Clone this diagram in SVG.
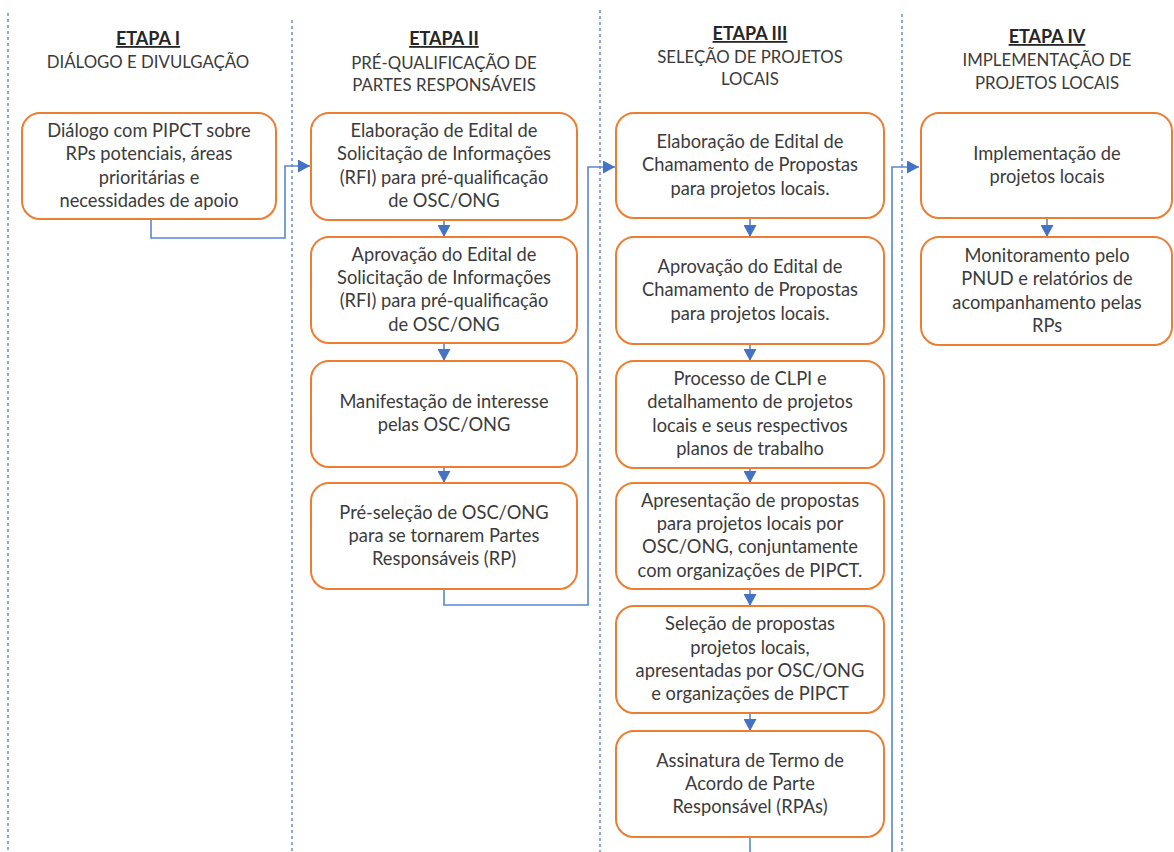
<svg xmlns="http://www.w3.org/2000/svg" width="1174" height="852" viewBox="0 0 1174 852">
<style>
  .sep{stroke:#8EA9DB;stroke-width:2;stroke-dasharray:3 3;fill:none}
  .box{fill:#FFFFFF;stroke:#ED7D31;stroke-width:2}
  .t{font-family:Lato,"Open Sans",sans-serif;font-size:18.3px;fill:#3B3B3B;text-anchor:middle}
  .h{font-family:Lato,"Open Sans",sans-serif;font-size:16.8px;fill:#3B3B3B;text-anchor:middle}
  .hb{font-size:18px;font-weight:bold;fill:#262626;text-decoration:underline}
  .c{stroke:#5B86D3;stroke-width:1.6;fill:none}
</style>
<defs>
  <marker id="ah" viewBox="0 0 12 13" refX="12" refY="6.5" markerWidth="12" markerHeight="13" markerUnits="userSpaceOnUse" orient="auto">
    <path d="M0,0 L12,6.5 L0,13 z" fill="#4472C4"/>
  </marker>
</defs>
<rect width="1174" height="852" fill="#FFFFFF"/>

<g id="separators">
  <line class="sep" x1="8" y1="13" x2="8" y2="852"/>
  <line class="sep" x1="292" y1="20" x2="292" y2="852"/>
  <line class="sep" x1="600" y1="10" x2="600" y2="852"/>
  <line class="sep" x1="902" y1="14" x2="902" y2="852"/>
</g>

<g id="headers">
  <text class="h hb" x="148" y="45">ETAPA I</text>
  <text class="h" x="148" y="68">DIÁLOGO E DIVULGAÇÃO</text>
  <text class="h hb" x="444" y="45">ETAPA II</text>
  <text class="h" x="444" y="69">PRÉ-QUALIFICAÇÃO DE</text>
  <text class="h" x="444" y="91">PARTES RESPONSÁVEIS</text>
  <text class="h hb" x="750" y="40">ETAPA III</text>
  <text class="h" x="750" y="63">SELEÇÃO DE PROJETOS</text>
  <text class="h" x="750" y="85">LOCAIS</text>
  <text class="h hb" x="1047" y="43">ETAPA IV</text>
  <text class="h" x="1047" y="66">IMPLEMENTAÇÃO DE</text>
  <text class="h" x="1047" y="89">PROJETOS LOCAIS</text>
</g>

<g id="connectors">
  <path class="c" d="M151,219 V238 H285 V166 H310" marker-end="url(#ah)"/>
  <path class="c" d="M444,589 V605 H588 V167 H615" marker-end="url(#ah)"/>
  <path class="c" d="M750,837 V880 H892 V167 H919" marker-end="url(#ah)"/>
  <path class="c" d="M444,220 V237" marker-end="url(#ah)"/>
  <path class="c" d="M444,343 V361" marker-end="url(#ah)"/>
  <path class="c" d="M444,467 V483" marker-end="url(#ah)"/>
  <path class="c" d="M750,218 V237" marker-end="url(#ah)"/>
  <path class="c" d="M750,344 V361" marker-end="url(#ah)"/>
  <path class="c" d="M750,468 V483" marker-end="url(#ah)"/>
  <path class="c" d="M750,589 V606" marker-end="url(#ah)"/>
  <path class="c" d="M750,713 V731" marker-end="url(#ah)"/>
  <path class="c" d="M1047,218 V237" marker-end="url(#ah)"/>
</g>

<g id="n1">
  <rect class="box" x="22" y="113" width="254" height="106" rx="18"/>
  <text class="t" x="149" y="137">Diálogo com PIPCT sobre</text>
  <text class="t" x="149" y="160">RPs potenciais, áreas</text>
  <text class="t" x="149" y="184">prioritárias e</text>
  <text class="t" x="149" y="207">necessidades de apoio</text>
</g>

<g id="n2">
  <rect class="box" x="311" y="113" width="266" height="107" rx="18"/>
  <text class="t" x="444" y="137">Elaboração de Edital de</text>
  <text class="t" x="444" y="160">Solicitação de Informações</text>
  <text class="t" x="444" y="184">(RFI) para pré-qualificação</text>
  <text class="t" x="444" y="207">de OSC/ONG</text>
</g>

<g id="n3">
  <rect class="box" x="311" y="237" width="266" height="106" rx="18"/>
  <text class="t" x="444" y="261">Aprovação do Edital de</text>
  <text class="t" x="444" y="284">Solicitação de Informações</text>
  <text class="t" x="444" y="307">(RFI) para pré-qualificação</text>
  <text class="t" x="444" y="331">de OSC/ONG</text>
</g>

<g id="n4">
  <rect class="box" x="311" y="361" width="266" height="106" rx="18"/>
  <text class="t" x="444" y="408">Manifestação de interesse</text>
  <text class="t" x="444" y="431">pelas OSC/ONG</text>
</g>

<g id="n5">
  <rect class="box" x="311" y="483" width="266" height="106" rx="18"/>
  <text class="t" x="444" y="519">Pré-seleção de OSC/ONG</text>
  <text class="t" x="444" y="542">para se tornarem Partes</text>
  <text class="t" x="444" y="565">Responsáveis (RP)</text>
</g>

<g id="n6">
  <rect class="box" x="616" y="113" width="268" height="105" rx="18"/>
  <text class="t" x="750" y="148">Elaboração de Edital de</text>
  <text class="t" x="750" y="171">Chamamento de Propostas</text>
  <text class="t" x="750" y="195">para projetos locais.</text>
</g>

<g id="n7">
  <rect class="box" x="616" y="237" width="268" height="107" rx="18"/>
  <text class="t" x="750" y="273">Aprovação do Edital de</text>
  <text class="t" x="750" y="296">Chamamento de Propostas</text>
  <text class="t" x="750" y="320">para projetos locais.</text>
</g>

<g id="n8">
  <rect class="box" x="616" y="361" width="268" height="107" rx="18"/>
  <text class="t" x="750" y="385">Processo de CLPI e</text>
  <text class="t" x="750" y="408">detalhamento de projetos</text>
  <text class="t" x="750" y="432">locais e seus respectivos</text>
  <text class="t" x="750" y="455">planos de trabalho</text>
</g>

<g id="n9">
  <rect class="box" x="616" y="483" width="268" height="106" rx="18"/>
  <text class="t" x="750" y="507">Apresentação de propostas</text>
  <text class="t" x="750" y="530">para projetos locais por</text>
  <text class="t" x="750" y="553">OSC/ONG, conjuntamente</text>
  <text class="t" x="750" y="577">com organizações de PIPCT.</text>
</g>

<g id="n10">
  <rect class="box" x="616" y="606" width="268" height="107" rx="18"/>
  <text class="t" x="750" y="630">Seleção de propostas</text>
  <text class="t" x="750" y="654">projetos locais,</text>
  <text class="t" x="750" y="677">apresentadas por OSC/ONG</text>
  <text class="t" x="750" y="700">e organizações de PIPCT</text>
</g>

<g id="n11">
  <rect class="box" x="616" y="731" width="268" height="106" rx="18"/>
  <text class="t" x="750" y="767">Assinatura de Termo de</text>
  <text class="t" x="750" y="790">Acordo de Parte</text>
  <text class="t" x="750" y="813">Responsável (RPAs)</text>
</g>

<g id="n12">
  <rect class="box" x="921" y="113" width="251" height="105" rx="18"/>
  <text class="t" x="1047" y="160">Implementação de</text>
  <text class="t" x="1047" y="183">projetos locais</text>
</g>

<g id="n13">
  <rect class="box" x="921" y="237" width="251" height="108" rx="18"/>
  <text class="t" x="1047" y="262">Monitoramento pelo</text>
  <text class="t" x="1047" y="285">PNUD e relatórios de</text>
  <text class="t" x="1047" y="309">acompanhamento pelas</text>
  <text class="t" x="1047" y="332">RPs</text>
</g>
</svg>
